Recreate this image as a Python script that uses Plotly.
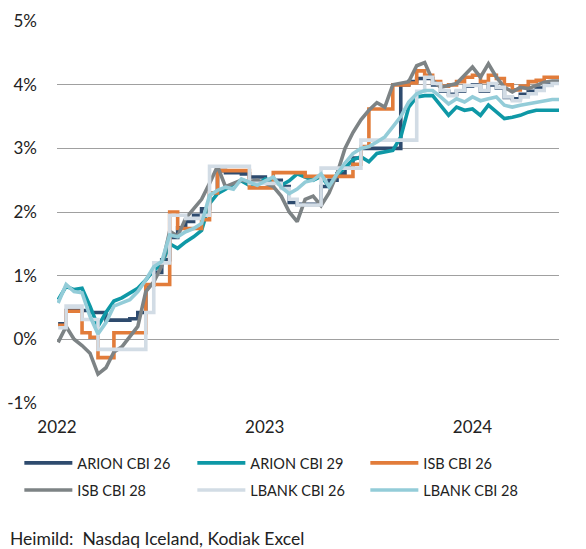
import pandas as pd
import plotly.graph_objects as go

# biweekly observations, Jan 2022 - Jun 2024 (yield, %)
dates = pd.date_range("2022-01-03", periods=64, freq="14D")

arion_26 = [0.24, 0.45, 0.45, 0.45, 0.42, 0.42, 0.3, 0.3, 0.3, 0.32,
            0.42, 0.85, 1.05, 1.25, 1.6, 1.75, 1.85, 1.95, 2.05, 2.3,
            2.65, 2.62, 2.62, 2.6, 2.55, 2.55, 2.5, 2.5, 2.4, 2.15,
            2.12, 2.12, 2.12, 2.4, 2.5, 2.6, 2.7, 2.85, 3.0, 3.0,
            3.0, 3.0, 3.0, 4.0, 4.05, 4.1, 4.1, 4.0, 3.9, 3.85,
            3.9, 3.98, 4.0, 3.9, 4.0, 3.95, 3.8, 3.78, 3.85, 3.9,
            3.95, 4.0, 4.03, 4.03]
arion_29 = [0.62, 0.83, 0.78, 0.8, 0.52, 0.2, 0.42, 0.6, 0.65, 0.73,
            0.8, 0.93, 1.09, 1.17, 1.5, 1.43, 1.53, 1.61, 1.71, 2.13,
            2.29, 2.36, 2.44, 2.49, 2.42, 2.44, 2.52, 2.49, 2.42, 2.49,
            2.6, 2.55, 2.5, 2.56, 2.4, 2.58, 2.71, 2.82, 2.87, 2.79,
            2.92, 2.95, 2.97, 3.18, 3.65, 3.81, 3.83, 3.83, 3.68, 3.52,
            3.65, 3.6, 3.62, 3.52, 3.68, 3.57, 3.47, 3.49, 3.52, 3.57,
            3.6, 3.6, 3.6, 3.6]
isb_26 = [0.22, 0.44, 0.44, 0.1, 0.03, -0.29, -0.29, 0.1, 0.1, 0.1,
          0.1, 0.86, 0.86, 0.86, 2.0, 1.74, 1.74, 1.74, 1.88, 2.3,
          2.65, 2.65, 2.65, 2.65, 2.38, 2.38, 2.38, 2.62, 2.62, 2.62,
          2.62, 2.56, 2.56, 2.56, 2.56, 2.56, 2.56, 2.75, 3.03, 3.62,
          3.62, 3.62, 4.0, 4.0, 4.03, 4.22, 4.15, 4.05, 3.98, 4.0,
          4.05, 4.12, 4.15, 4.05, 4.15, 4.1, 4.0, 3.92, 3.98, 4.05,
          4.07, 4.12, 4.12, 4.12]
isb_28 = [-0.05, 0.2, 0.0, -0.1, -0.22, -0.55, -0.45, -0.2, -0.12, 0.05,
          0.2, 0.75, 0.9, 1.15, 1.7, 1.62, 1.9, 2.05, 2.2, 2.45,
          2.72, 2.4, 2.45, 2.5, 2.48, 2.5, 2.45, 2.4, 2.25, 2.0,
          1.85, 2.2, 2.25, 2.1, 2.3, 2.6, 3.0, 3.25, 3.45, 3.6,
          3.72, 3.65, 4.0, 4.03, 4.05, 4.3, 4.35, 4.07, 3.96, 3.99,
          4.02, 4.15, 4.28, 4.12, 4.33, 4.12, 3.96, 3.89, 3.96, 3.94,
          3.99, 4.04, 4.06, 4.06]
lbank_26 = [0.18, 0.52, 0.52, 0.31, 0.31, -0.16, -0.16, -0.16, -0.16, -0.16,
            -0.16, 0.42, 1.2, 1.2, 1.95, 1.95, 1.9, 1.9, 1.95, 2.72,
            2.72, 2.72, 2.72, 2.72, 2.45, 2.45, 2.45, 2.45, 2.37, 2.2,
            2.11, 2.11, 2.11, 2.69, 2.69, 2.69, 2.69, 2.69, 3.13, 3.13,
            3.13, 3.13, 3.13, 3.13, 3.13, 3.9, 4.12, 4.02, 3.91, 3.83,
            3.91, 3.99, 3.99, 3.91, 4.02, 3.96, 3.81, 3.75, 3.81, 3.86,
            3.91, 3.99, 4.02, 4.02]
lbank_28 = [0.57, 0.86, 0.75, 0.73, 0.36, 0.08, 0.26, 0.52, 0.57, 0.62,
            0.75, 0.93, 1.14, 1.22, 1.64, 1.61, 1.69, 1.74, 1.82, 2.26,
            2.34, 2.39, 2.36, 2.52, 2.47, 2.42, 2.49, 2.55, 2.39, 2.29,
            2.36, 2.47, 2.5, 2.6, 2.4, 2.6, 2.77, 2.92, 3.0, 3.03,
            3.1, 3.18, 3.34, 3.5, 3.73, 3.86, 3.91, 3.91, 3.81, 3.7,
            3.78, 3.73, 3.81, 3.75, 3.78, 3.81, 3.68, 3.65, 3.68, 3.7,
            3.73, 3.75, 3.77, 3.77]

y_ticks = [-0.01, 0, 0.01, 0.02, 0.03, 0.04, 0.05]
y_labels = ["-1%", "0%", "1%", "2%", "3%", "4%", "5%"]
x_ticks = ["2022-01-01", "2023-01-01", "2024-01-01"]
x_labels = ["2022", "2023", "2024"]

# name, values, colour, line shape, legend row
series = [
    ("ARION CBI 26", arion_26, "#2E4B6E", "hv", "legend"),
    ("ARION CBI 29", arion_29, "#0E98A6", "linear", "legend"),
    ("ISB CBI 26", isb_26, "#E27C3A", "hv", "legend"),
    ("ISB CBI 28", isb_28, "#7D8385", "linear", "legend2"),
    ("LBANK CBI 26", lbank_26, "#D2DCE5", "hv", "legend2"),
    ("LBANK CBI 28", lbank_28, "#93CCD8", "linear", "legend2"),
]

FONT = "Lato"
TXT = "#222222"

fig = go.Figure()
for name, vals, col, shape, leg in series:
    fig.add_trace(go.Scatter(x=dates, y=[v / 100 for v in vals], name=name, mode="lines",
                             legend=leg, line=dict(color=col, width=3.6, shape=shape)))

xr = ["2022-01-01", "2024-06-01"]

leg_common = dict(orientation="h", x=-0.075, xanchor="left", yanchor="middle",
                  entrywidth=110, entrywidthmode="pixels", itemwidth=48,
                  font=dict(family=FONT, size=14.5, color=TXT))

fig.update_layout(
    width=586, height=549,
    margin=dict(l=57, r=27, t=21, b=146, autoexpand=False),
    plot_bgcolor="white", paper_bgcolor="white",
    font=dict(family=FONT, size=17, color=TXT),
    showlegend=True,
    legend=dict(y=-0.157, **leg_common),
    legend2=dict(y=-0.228, **leg_common),
    xaxis=dict(type="date", range=xr, tickvals=x_ticks, ticktext=x_labels,
               showgrid=False, zeroline=False, showline=False, ticks="",
               ticklabelstandoff=12, automargin=False),
    xaxis2=dict(type="date", range=xr, overlaying="x", anchor="free", position=1 / 6,
                tickvals=x_ticks[1:], ticks="outside", ticklen=5, tickcolor="#A0A0A0",
                showticklabels=False, showgrid=False, zeroline=False, showline=False,
                automargin=False),
    yaxis=dict(range=[-0.01004, 0.05004], tickvals=y_ticks, ticktext=y_labels,
               showgrid=True, gridcolor="#A0A0A0", gridwidth=1.4, zeroline=False,
               showline=False, ticks="", ticklabelstandoff=19, automargin=False),
    annotations=[dict(text="Heimild:  Nasdaq Iceland, Kodiak Excel", xref="paper", yref="paper",
                      x=-0.098, y=-0.356, xanchor="left", yanchor="middle", showarrow=False,
                      font=dict(family=FONT, size=17.5, color=TXT))],
)

fig.write_html("out.html", config={"displayModeBar": False},
               post_script="document.body.style.margin='0';document.body.style.overflow='hidden';")
